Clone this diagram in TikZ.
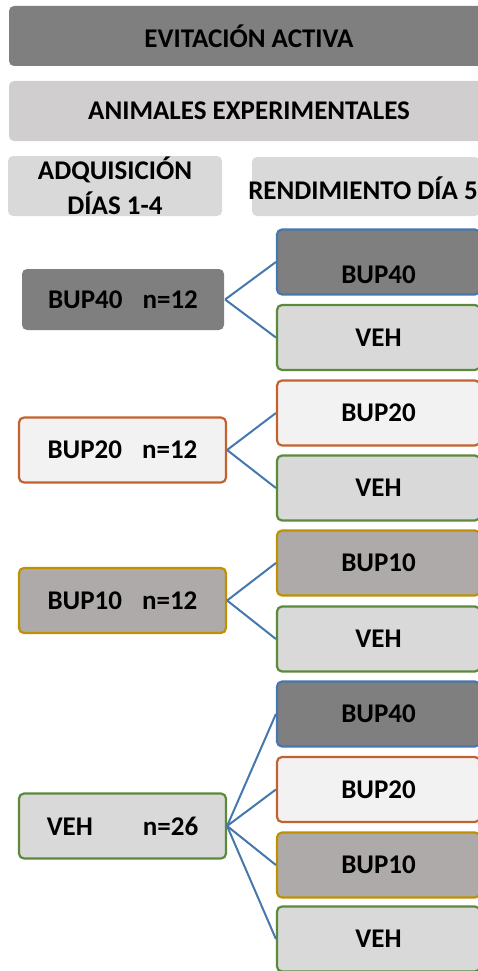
\documentclass[tikz,border=0pt]{standalone}
\usepackage{fontspec}
\setmainfont{Carlito}
\definecolor{dgray}{HTML}{7F7F7F}
\definecolor{lgray}{HTML}{D0CECE}
\definecolor{mgray}{HTML}{D9D9D9}
\definecolor{pale}{HTML}{F2F2F2}
\definecolor{taupe}{HTML}{AEAAAA}
\definecolor{bblue}{HTML}{4677AE}
\definecolor{bgreen}{HTML}{5A8A3A}
\definecolor{borange}{HTML}{C4622D}
\definecolor{bgold}{HTML}{BF9000}
\begin{document}
\begin{tikzpicture}[x=1pt,y=-1pt,
  txt/.style={font=\bfseries\fontsize{27}{32}\selectfont},
  box/.style={rounded corners=5pt, inner sep=0pt, txt, line width=2.2pt},
  lbox/.style={box, minimum width=207pt, minimum height=65pt},
  rbox/.style={box, minimum width=203pt, minimum height=65pt},
  conn/.style={draw=bblue, line width=2pt}]
\useasboundingbox (0,0) rectangle (478,971);
\clip (0,0) rectangle (478,971);
% headers
\node[box, fill=dgray, minimum width=480pt, minimum height=60pt] (title) at (249,36) {EVITACIÓN ACTIVA};
\node[box, fill=lgray, minimum width=480pt, minimum height=60pt] (anim) at (249,111) {ANIMALES EXPERIMENTALES};
\node[box, fill=mgray, minimum width=214pt, minimum height=60pt, align=center, font=\bfseries\fontsize{27}{35}\selectfont] (adq) at (115,186) {ADQUISICIÓN\\DÍAS 1-4};
\node[box, fill=mgray, minimum width=228pt, minimum height=59pt, label={[txt, xshift=-3pt, yshift=-2pt]center:RENDIMIENTO DÍA 5}] (rend) at (366,186.5) {};
% group BUP40
\node[box, fill=dgray, minimum width=202pt, minimum height=61pt] (l40) at (123,299.5) {BUP40\hspace{20pt}n=12};
\node[rbox, fill=dgray, draw=bblue, label={[txt, yshift=-13pt]center:BUP40}] (r40a) at (378.5,262) {};
\node[rbox, fill=mgray, draw=bgreen] (rveha) at (378.5,337.5) {VEH};
% group BUP20
\node[lbox, fill=pale, draw=borange] (l20) at (122.5,450) {BUP20\hspace{20pt}n=12};
\node[rbox, fill=pale, draw=borange] (r20b) at (378.5,413) {BUP20};
\node[rbox, fill=mgray, draw=bgreen] (rvehb) at (378.5,488) {VEH};
% group BUP10
\node[lbox, fill=taupe, draw=bgold] (l10) at (122.5,600.5) {BUP10\hspace{20pt}n=12};
\node[rbox, fill=taupe, draw=bgold] (r10c) at (378.5,563) {BUP10};
\node[rbox, fill=mgray, draw=bgreen] (rvehc) at (378.5,639) {VEH};
% group VEH
\node[lbox, fill=mgray, draw=bgreen] (lveh) at (122.5,826) {VEH\hspace{50pt}n=26};
\node[rbox, fill=dgray, draw=bblue] (r40d) at (378.5,714) {BUP40};
\node[rbox, fill=pale, draw=borange] (r20d) at (378.5,789.5) {BUP20};
\node[rbox, fill=taupe, draw=bgold] (r10d) at (378.5,865) {BUP10};
\node[rbox, fill=mgray, draw=bgreen] (rvehd) at (378.5,939) {VEH};
% connectors
\draw[conn] (l40.east) -- (r40a.west);
\draw[conn] (l40.east) -- (rveha.west);
\draw[conn] (l20.east) -- (r20b.west);
\draw[conn] (l20.east) -- (rvehb.west);
\draw[conn] (l10.east) -- (r10c.west);
\draw[conn] (l10.east) -- (rvehc.west);
\draw[conn] (lveh.east) -- (r40d.west);
\draw[conn] (lveh.east) -- (r20d.west);
\draw[conn] (lveh.east) -- (r10d.west);
\draw[conn] (lveh.east) -- (rvehd.west);
\end{tikzpicture}
\end{document}
